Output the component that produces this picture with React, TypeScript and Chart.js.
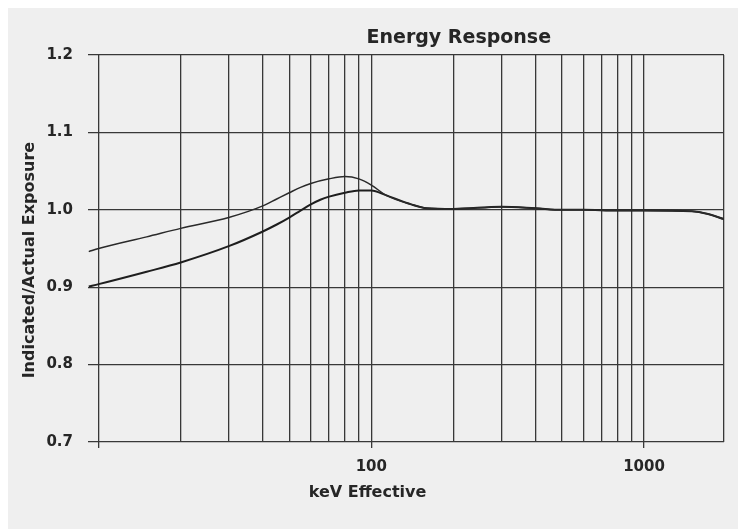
import React, { useEffect, useRef } from "react";
import { Chart, registerables } from "chart.js";

Chart.register(...registerables);

const TITLE = "Energy Response";
const X_TITLE = "keV Effective";
const Y_TITLE = "Indicated/Actual Exposure";

// Upper curve (keV, ratio)
const energyUpper = [9.2, 10, 15, 20, 30, 40, 45, 50, 55, 60, 70, 80, 90, 100, 113, 140, 160, 200, 300, 400, 500, 600, 800, 1000, 1500, 1700, 1965];
const responseUpper = [0.946, 0.95, 0.965, 0.976, 0.99, 1.005, 1.014, 1.022, 1.029, 1.034, 1.04, 1.043, 1.04, 1.032, 1.019, 1.007, 1.002, 1.001, 1.004, 1.002, 1.0, 1.0, 0.999, 0.999, 0.998, 0.995, 0.988];

// Lower curve (keV, ratio)
const energyLower = [9.2, 10, 15, 20, 30, 40, 45, 50, 55, 60, 65, 70, 80, 90, 100, 113, 140, 160, 200, 300, 400, 500, 600, 800, 1000, 1500, 1700, 1965];
const responseLower = [0.901, 0.904, 0.92, 0.932, 0.953, 0.972, 0.981, 0.99, 0.999, 1.007, 1.013, 1.017, 1.022, 1.025, 1.025, 1.019, 1.007, 1.002, 1.001, 1.004, 1.002, 1.0, 1.0, 0.999, 0.999, 0.998, 0.995, 0.988];

// Axis settings
const X_MIN = 9.14;
const X_MAX = 1965;
const X_GRID = [10, 20, 30, 40, 50, 60, 70, 80, 90, 100, 200, 300, 400, 500, 600, 700, 800, 900, 1000];
const X_LABELED = [100, 1000];
const X_MAJOR = [10, 100, 1000];
const Y_MIN = 0.7;
const Y_MAX = 1.2;
const Y_STEP = 0.1;

const FONT = '"DejaVu Sans", "Liberation Sans", Arial, sans-serif';
const TEXT = "#262626";
const GRID = "#383838";

const titlesPlugin = {
  id: "customTitles",
  afterDraw(chart: any) {
    const { ctx, chartArea: a } = chart;
    const w = a.right - a.left;
    const h = a.bottom - a.top;
    ctx.save();
    ctx.fillStyle = TEXT;
    ctx.textAlign = "center";
    ctx.textBaseline = "alphabetic";
    ctx.font = `bold 19px ${FONT}`;
    ctx.fillText(TITLE, a.left + w * 0.583, a.top - 12);
    ctx.font = `bold 16px ${FONT}`;
    ctx.fillText(X_TITLE, a.left + w * 0.4395, a.bottom + 55);
    ctx.translate(22, a.top + h * 0.53);
    ctx.rotate(-Math.PI / 2);
    ctx.textBaseline = "middle";
    ctx.fillText(Y_TITLE, 0, 0);
    ctx.restore();
  },
};

export default function App() {
  const ref = useRef<HTMLCanvasElement>(null);

  useEffect(() => {
    if (!ref.current) return;
    const chart = new Chart(ref.current, {
      type: "line",
      data: {
        datasets: [
          {
            label: "Upper",
            data: energyUpper.map((x, i) => ({ x, y: responseUpper[i] })),
            borderColor: "#2a2a2a",
            borderWidth: 1.5,
            pointRadius: 0,
            cubicInterpolationMode: "monotone",
            fill: false,
          },
          {
            label: "Lower",
            data: energyLower.map((x, i) => ({ x, y: responseLower[i] })),
            borderColor: "#1e1e1e",
            borderWidth: 2,
            pointRadius: 0,
            cubicInterpolationMode: "monotone",
            fill: false,
          },
        ],
      },
      options: {
        animation: false,
        responsive: false,
        events: [],
        layout: { padding: { top: 47, right: 14, left: 0, bottom: 0 } },
        plugins: {
          legend: { display: false },
          title: { display: false },
          tooltip: { enabled: false },
        },
        scales: {
          x: {
            type: "logarithmic",
            min: X_MIN,
            max: X_MAX,
            afterBuildTicks: (scale: any) => {
              scale.ticks = [...X_GRID, scale.max].map((v) => ({ value: v }));
            },
            afterFit: (scale: any) => {
              scale.height = 87;
            },
            border: { display: false },
            grid: {
              color: GRID,
              lineWidth: 1.3,
              drawTicks: true,
              tickLength: 6,
              tickColor: (c: any) => (c.tick && X_MAJOR.includes(c.tick.value) ? GRID : "rgba(0,0,0,0)"),
            },
            ticks: {
              autoSkip: false,
              maxRotation: 0,
              padding: 10,
              color: TEXT,
              font: { family: FONT, size: 15, weight: "bold" },
              callback: (v: any) => (X_LABELED.includes(Number(v)) ? String(v) : ""),
            },
          },
          y: {
            type: "linear",
            min: Y_MIN,
            max: Y_MAX,
            afterFit: (scale: any) => {
              scale.width = 80;
            },
            border: { display: false },
            grid: { color: GRID, lineWidth: 1.3, drawTicks: false },
            ticks: {
              stepSize: Y_STEP,
              padding: 15,
              color: TEXT,
              font: { family: FONT, size: 15, weight: "bold" },
              callback: (v: any) => Number(v).toFixed(1),
            },
          },
        },
      },
      plugins: [titlesPlugin],
    } as any);
    return () => chart.destroy();
  }, []);

  return (
    <div
      style={{
        position: "fixed",
        left: 8,
        top: 8,
        right: 0,
        bottom: 0,
        background: "#efefef",
      }}
    >
      <canvas ref={ref} width={730} height={521} style={{ display: "block" }} />
    </div>
  );
}
